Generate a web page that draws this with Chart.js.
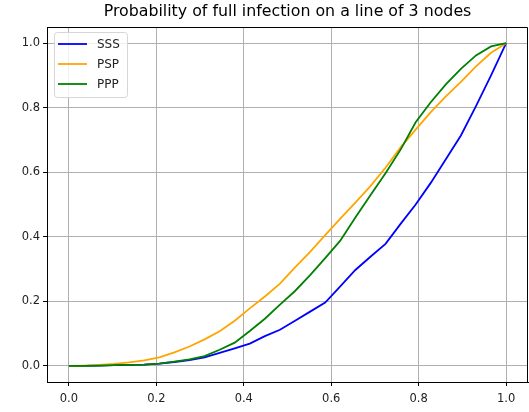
<!DOCTYPE html>
<html>
<head>
<meta charset="utf-8">
<script src="https://cdn.jsdelivr.net/npm/chart.js@4"></script>
<style>
  html, body { margin: 0; padding: 0; background: #fff; }
  #wrap { width: 529px; height: 412px; }
</style>
</head>
<body>
<div id="wrap"><canvas id="c" width="529" height="412"></canvas></div>
<script>
// Infection probability p, sampled at 30 evenly spaced points on [0, 1]
const pValues = Array.from({ length: 30 }, (_, i) => i / 29);

const sss = [0, 0, 0.001, 0.002, 0.003, 0.004, 0.007, 0.012, 0.018, 0.026,
             0.04, 0.054, 0.069, 0.092, 0.112, 0.14, 0.168, 0.196, 0.246, 0.297,
             0.338, 0.378, 0.44, 0.5, 0.567, 0.64, 0.714, 0.805, 0.9, 1];
const psp = [0, 0.001, 0.003, 0.006, 0.011, 0.017, 0.026, 0.042, 0.06, 0.082,
             0.107, 0.14, 0.178, 0.215, 0.255, 0.305, 0.353, 0.405, 0.456, 0.506,
             0.557, 0.614, 0.677, 0.732, 0.786, 0.835, 0.88, 0.928, 0.97, 1];
const ppp = [0, 0, 0.001, 0.002, 0.003, 0.004, 0.007, 0.013, 0.02, 0.03,
             0.05, 0.072, 0.108, 0.146, 0.19, 0.232, 0.281, 0.334, 0.388, 0.46,
             0.529, 0.597, 0.67, 0.755, 0.817, 0.872, 0.92, 0.962, 0.99, 1];

const seriesNames = ['SSS', 'PSP', 'PPP'];
const xTicks = [0, 0.2, 0.4, 0.6, 0.8, 1.0];
const yTicks = [0, 0.2, 0.4, 0.6, 0.8, 1.0];
const titleText = 'Probability of full infection on a line of 3 nodes';

const FONT = 'DejaVu Sans';

const toPoints = (ys) => ys.map((y, i) => ({ x: pValues[i], y }));

// Title centred over the plot area, top/right spines, and a boxed legend
// in the upper-left corner of the plot.
const framePlugin = {
  id: 'frame',
  afterDraw(chart) {
    const { ctx, chartArea: a } = chart;
    ctx.save();
    ctx.fillStyle = '#000';
    ctx.font = '15.8px "' + FONT + '"';
    ctx.textAlign = 'center';
    ctx.textBaseline = 'middle';
    ctx.fillText(titleText, (a.left + a.right) / 2, 12);
    ctx.restore();
  },
  afterDatasetsDraw(chart) {
    const { ctx, chartArea: a } = chart;
    ctx.save();
    ctx.strokeStyle = '#000';
    ctx.lineWidth = 1;
    ctx.beginPath();
    ctx.moveTo(a.left, a.top + 0.5);
    ctx.lineTo(a.right - 0.5, a.top + 0.5);
    ctx.lineTo(a.right - 0.5, a.bottom);
    ctx.stroke();

    const bx = a.left + 7, by = a.top + 5, bw = 73, bh = 65;
    ctx.beginPath();
    ctx.roundRect(bx + 0.5, by + 0.5, bw, bh, 3);
    ctx.fillStyle = 'rgba(255,255,255,0.8)';
    ctx.fill();
    ctx.strokeStyle = '#d6d6d6';
    ctx.lineWidth = 1;
    ctx.stroke();

    ctx.font = '12px "' + FONT + '"';
    ctx.textBaseline = 'middle';
    ctx.textAlign = 'left';
    chart.data.datasets.forEach((ds, i) => {
      const yy = by + 12 + i * 20;
      ctx.beginPath();
      ctx.strokeStyle = ds.borderColor;
      ctx.lineWidth = 1.8;
      ctx.moveTo(bx + 4, yy);
      ctx.lineTo(bx + 33, yy);
      ctx.stroke();
      ctx.fillStyle = '#222';
      ctx.fillText(ds.label, bx + 43, yy + 1);
    });
    ctx.restore();
  }
};

const tickSetter = (values) => (axis) => {
  axis.ticks = values.map(v => ({ value: v }));
};

new Chart(document.getElementById('c'), {
  type: 'line',
  data: {
    datasets: [
      { label: seriesNames[0], data: toPoints(sss), borderColor: '#0000ff', order: 3 },
      { label: seriesNames[1], data: toPoints(psp), borderColor: '#ffa500', order: 2 },
      { label: seriesNames[2], data: toPoints(ppp), borderColor: '#008000', order: 1 }
    ]
  },
  options: {
    responsive: false,
    animation: false,
    devicePixelRatio: 1,
    layout: { padding: { left: 0, right: 1, top: 27, bottom: 0 } },
    elements: {
      line: { borderWidth: 1.8, tension: 0, fill: false },
      point: { radius: 0, hoverRadius: 0 }
    },
    plugins: {
      legend: { display: false },
      tooltip: { enabled: false },
      title: { display: false }
    },
    scales: {
      x: {
        type: 'linear',
        min: -0.05,
        max: 1.05,
        afterBuildTicks: tickSetter(xTicks),
        afterFit: (s) => { s.height = 30; },
        grid: { color: '#b0b0b0', lineWidth: 1, tickColor: '#000', tickLength: 4 },
        border: { color: '#000', width: 1 },
        ticks: {
          color: '#222',
          padding: 6,
          maxRotation: 0,
          font: { family: FONT, size: 11.5 },
          callback: (v) => Number(v).toFixed(1)
        }
      },
      y: {
        type: 'linear',
        min: -0.05,
        max: 1.05,
        afterBuildTicks: tickSetter(yTicks),
        afterFit: (s) => { s.width = 47; },
        grid: { color: '#b0b0b0', lineWidth: 1, tickColor: '#000', tickLength: 4 },
        border: { color: '#000', width: 1 },
        ticks: {
          color: '#222',
          padding: 3,
          font: { family: FONT, size: 11.5 },
          callback: (v) => Number(v).toFixed(1)
        }
      }
    }
  },
  plugins: [framePlugin]
});
</script>
</body>
</html>
